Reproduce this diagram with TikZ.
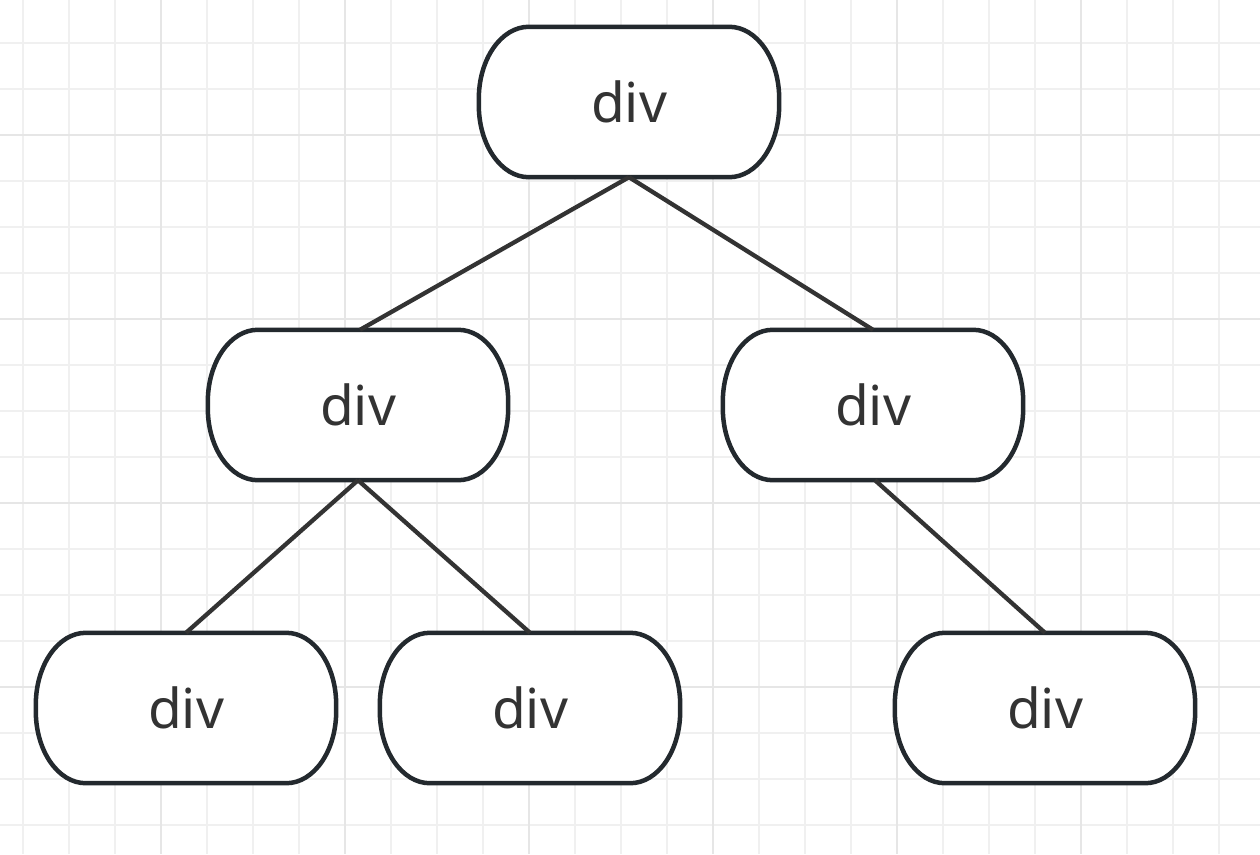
\documentclass[tikz,border=0pt]{standalone}
\usepackage{fontspec}
\setmainfont{Noto Sans}
\usetikzlibrary{calc}
\pgfdeclarelayer{grid}
\pgfdeclarelayer{boxes}
\pgfsetlayers{grid,boxes,main}
% pill-shaped outline with elliptical ends around a named node
\newcommand{\pilloutline}[1]{%
  \path[boxshape] let \p1=(#1.north west), \p2=(#1.south east) in
    (\x1+50pt,\y1) -- (\x2-50pt,\y1)
    .. controls (\x2-22.4pt,\y1) and (\x2,\y1-32.2pt) .. (\x2,\y1-72pt)
    -- (\x2,\y2+72pt)
    .. controls (\x2,\y2+32.2pt) and (\x2-22.4pt,\y2) .. (\x2-50pt,\y2)
    -- (\x1+50pt,\y2)
    .. controls (\x1+22.4pt,\y2) and (\x1,\y2+32.2pt) .. (\x1,\y2+72pt)
    -- (\x1,\y1-72pt)
    .. controls (\x1,\y1-32.2pt) and (\x1+22.4pt,\y1) .. (\x1+50pt,\y1)
    -- cycle;}
\begin{document}
\begin{tikzpicture}[x=1pt,y=-1pt,
  divbox/.style={minimum width=300pt, minimum height=150pt, inner sep=0pt,
    text=labeltext, font=\fontsize{55}{60}\selectfont},
  boxshape/.style={draw=boxline, line width=4.5pt, fill=white},
  link/.style={draw=linkline, line width=4.3pt},
  minorgrid/.style={draw=gridminor, line width=1.6pt},
  majorgrid/.style={draw=gridmajor, line width=2pt}]
\definecolor{boxline}{HTML}{23292E}
\definecolor{linkline}{HTML}{333333}
\definecolor{labeltext}{HTML}{333333}
\definecolor{gridminor}{HTML}{F0F0F0}
\definecolor{gridmajor}{HTML}{E6E6E6}
\useasboundingbox (0,0) rectangle (1260,854);
% background grid: minor every 46, major every 184
\begin{pgfonlayer}{grid}
\fill[white] (0,0) rectangle (1260,854);
\foreach \x in {22.7,68.7,...,1260} \draw[minorgrid] (\x,0) -- (\x,854);
\foreach \y in {42.7,88.7,...,854} \draw[minorgrid] (0,\y) -- (1260,\y);
\foreach \x in {160.7,344.7,...,1260} \draw[majorgrid] (\x,0) -- (\x,854);
\foreach \y in {135,319,...,854} \draw[majorgrid] (0,\y) -- (1260,\y);
\end{pgfonlayer}
% tree nodes
\node[divbox] (root) at (629,102) {div};
\node[divbox] (l) at (358,405) {div};
\node[divbox] (r) at (873,405) {div};
\node[divbox] (ll) at (186,708) {div};
\node[divbox] (lr) at (530,708) {div};
\node[divbox] (rr) at (1045,708) {div};
\begin{pgfonlayer}{boxes}
\pilloutline{root}
\pilloutline{l}
\pilloutline{r}
\pilloutline{ll}
\pilloutline{lr}
\pilloutline{rr}
\end{pgfonlayer}
% connectors
\draw[link] (root.south) -- ([xshift=2pt]l.north);
\draw[link] (root.south) -- (r.north);
\draw[link] (l.south) -- (ll.north);
\draw[link] (l.south) -- (lr.north);
\draw[link] ([xshift=2pt]r.south) -- (rr.north);
\end{tikzpicture}
\end{document}
